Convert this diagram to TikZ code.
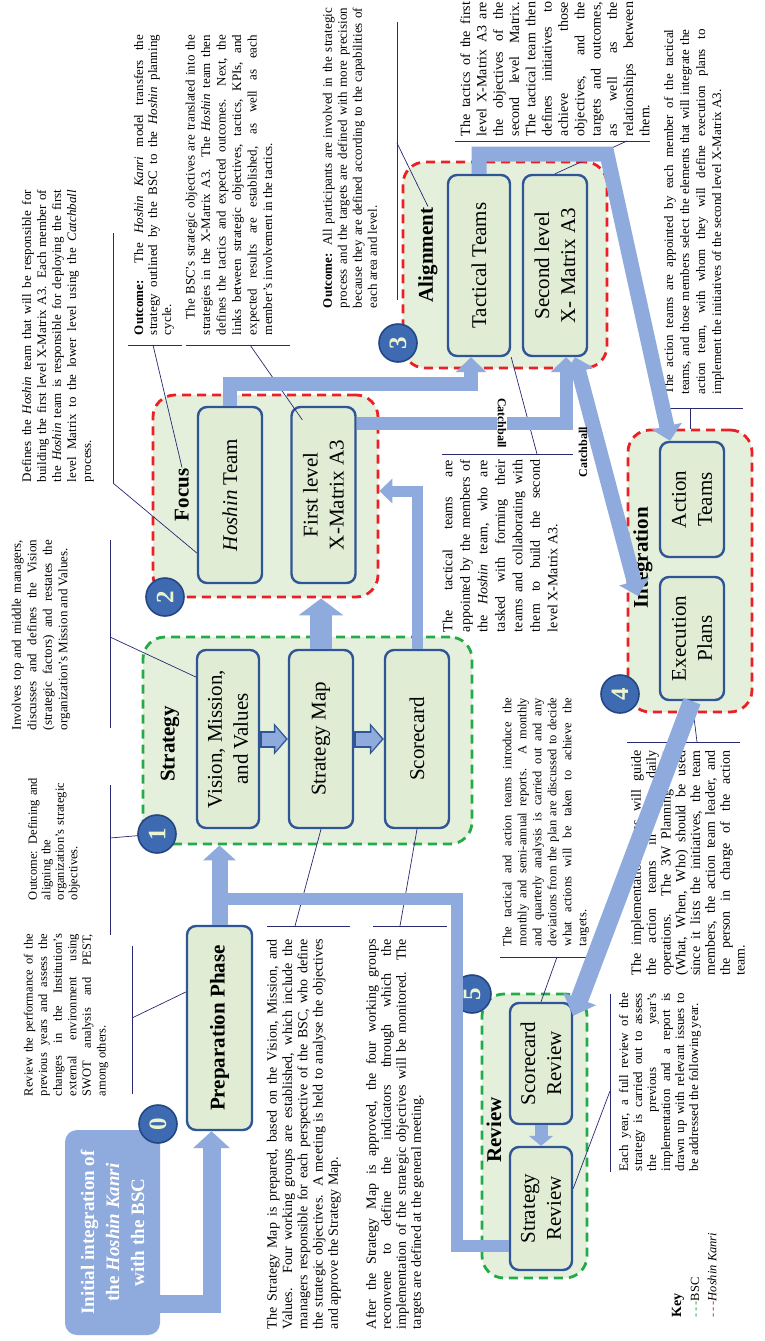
\documentclass[tikz,border=0pt]{standalone}
\usepackage{fontspec}
\setmainfont{Liberation Serif}
\usetikzlibrary{arrows.meta}

\definecolor{flowblue}{RGB}{143,170,220}
\definecolor{boxline}{RGB}{47,85,151}
\definecolor{boxfill}{RGB}{224,236,212}
\definecolor{groupfill}{RGB}{228,240,219}
\definecolor{bscgreen}{RGB}{36,170,70}
\definecolor{hkred}{RGB}{236,32,36}
\definecolor{numfill}{RGB}{62,106,178}
\definecolor{numline}{RGB}{36,70,130}
\definecolor{numtext}{RGB}{236,244,205}
\definecolor{leader}{RGB}{40,40,115}

\begin{document}
\begin{tikzpicture}[x=1pt,y=-1pt,
  para/.style={rotate=90,inner sep=0pt,align=justify,font=\fontsize{13}{15}\selectfont},
  phase/.style={rotate=90,draw=boxline,fill=boxfill,line width=2.4pt,rounded corners=9pt,inner sep=2pt,align=center,font=\fontsize{21}{26}\selectfont},
  bscgroup/.style={draw=bscgreen,fill=groupfill,line width=2.8pt,dash pattern=on 9pt off 6pt,rounded corners=22pt},
  hkgroup/.style={bscgroup,draw=hkred},
  grouplabel/.style={rotate=90,inner sep=1pt,font=\bfseries\fontsize{21}{24}\selectfont},
  stepnum/.style={circle,draw=numline,fill=numfill,line width=1.6pt,minimum size=38pt,inner sep=0pt,rotate=90,text=numtext,font=\bfseries\fontsize{25}{25}\selectfont},
  leaderline/.style={draw=leader,line width=0.7pt},
  flow/.style={draw=flowblue,line width=14pt,-{Triangle[width=30pt,length=15pt]}},
  flowbar/.style={draw=flowblue,line width=12pt},
  nextarrow/.style={draw=boxline,line width=17pt,-{Triangle[width=31pt,length=14pt]}},
  nextarrowin/.style={draw=flowblue,line width=13pt,-{Triangle[width=24pt,length=10.5pt]},shorten <=2pt,shorten >=2pt},
  catchlbl/.style={inner sep=1pt,font=\bfseries\fontsize{12}{12}\selectfont}]
\useasboundingbox (0,0) rectangle (765,1341);
\fill[white] (0,0) rectangle (765,1341);

%Rounded Rect: phase groups
\node[bscgroup,minimum width=329pt,minimum height=207pt] (strategy) at (307.5,740.5) {};
\node[hkgroup,minimum width=225pt,minimum height=202pt] (focus) at (265.5,496) {};
\node[hkgroup,minimum width=204pt,minimum height=206pt] (alignment) at (505,265) {};
\node[hkgroup,minimum width=124pt,minimum height=282pt] (integration) at (690,571) {};
\node[bscgroup,minimum width=105pt,minimum height=284pt] (review) at (534.5,1136) {};

%Rounded Rect: steps
\node[phase,minimum width=204pt,minimum height=65pt,font=\bfseries\fontsize{21}{26}\selectfont] (prep) at (219.5,1028) {Preparation Phase};
\node[phase,minimum width=178pt,minimum height=62pt] (vision) at (228,739) {Vision, Mission,\\and Values};
\node[phase,minimum width=178pt,minimum height=64pt] (smap) at (321,739) {Strategy Map};
\node[phase,minimum width=178pt,minimum height=64pt] (scard) at (417,739) {Scorecard};
\node[phase,minimum width=176pt,minimum height=64pt] (hoshin) at (230,495) {\textit{Hoshin} Team};
\node[phase,minimum width=176pt,minimum height=64pt] (first) at (323.5,495) {First level\\X-Matrix A3};
\node[phase,minimum width=181pt,minimum height=62pt] (tactical) at (479,265.5) {Tactical Teams};
\node[phase,minimum width=181pt,minimum height=64pt] (second) at (555,265.5) {Second level\\X- Matrix A3};
\node[phase,minimum width=115pt,minimum height=64pt] (action) at (692,499.5) {Action\\Teams};
\node[phase,minimum width=123pt,minimum height=64pt] (execution) at (692,638.5) {Execution\\Plans};
\node[phase,minimum width=121pt,minimum height=62pt] (screview) at (541,1063.5) {Scorecard\\Review};
\node[phase,minimum width=123pt,minimum height=62pt] (streview) at (541,1208.5) {Strategy\\Review};
\node[rotate=90,fill=flowblue,rounded corners=12pt,minimum width=205pt,minimum height=95pt,align=center,text=white,font=\bfseries\fontsize{19}{25}\selectfont] (start) at (112.5,1232.5) {Initial integration of\\the \textit{Hoshin Kanri}\\with the BSC};

% Text Node: group titles
\node[grouplabel] (strategylbl) at (170,744) {Strategy};
\node[grouplabel] (focuslbl) at (182,495) {Focus};
\node[grouplabel] (alignlbl) at (428,255) {Alignment};
\node[grouplabel] (integlbl) at (643,558) {Integration};
\node[grouplabel] (reviewlbl) at (494,1130) {Review};

% Text Node
\node[para,text width=162pt,font=\fontsize{12.5}{14.6}\selectfont] (reviewtxt) at (66,1015) {Review the performance of the\linebreak previous years and assess the\linebreak changes in the Institution's\linebreak external environment using\linebreak SWOT analysis and PEST,\linebreak among others.};
% Text Node
\node[para,text width=128pt,align=left,font=\fontsize{12.5}{13.5}\selectfont] (outcomeone) at (54,836) {Outcome: Defining and\\aligning the\\organization's strategic\\objectives.};
% Text Node
\node[para,text width=190pt,font=\fontsize{13}{15.5}\selectfont] (involvestxt) at (41,635) {Involves top and middle managers,\linebreak discusses and defines the Vision\linebreak (strategic factors) and restates the\linebreak organization's Mission and Values.};
% Text Node
\node[para,text width=292pt] (definestxt) at (58,336) {Defines the \textit{Hoshin} team that will be responsible for\linebreak building the first level X-Matrix A3. Each member of\linebreak the \textit{Hoshin} team is responsible for deploying the first\linebreak level Matrix to the lower level using the \textit{Catchball}\linebreak process.};
% Text Node
\node[para,text width=300pt,font=\fontsize{13}{14}\selectfont] (outcometwo) at (154,185) {\textbf{Outcome:} The \textit{Hoshin Kanri} model transfers the\linebreak strategy outlined by the BSC to the \textit{Hoshin} planning\linebreak cycle.};
% Text Node
\node[para,text width=300pt,font=\fontsize{13}{15.5}\selectfont] (bsctxt) at (229,185) {\hspace*{1.2em}The BSC's strategic objectives are translated into the\linebreak strategies in the X-Matrix A3. The \textit{Hoshin} team then\linebreak defines the tactics and expected outcomes. Next, the\linebreak links between strategic objectives, tactics, KPIs, and\linebreak expected results are established, as well as each\linebreak member's involvement in the tactics.};
% Text Node
\node[para,text width=300pt] (outcomethree) at (350,158) {\textbf{Outcome:} All participants are involved in the strategic\linebreak process and the targets are defined with more precision\linebreak because they are defined according to the capabilities of\linebreak each area and level.};
% Text Node
\node[para,text width=134pt,font=\fontsize{14}{16.3}\selectfont] (tacticstxt) at (555,69) {The tactics of the first\linebreak level X-Matrix A3 are\linebreak the objectives of the\linebreak second level Matrix.\linebreak The tactical team then\linebreak defines initiatives to\linebreak achieve those\linebreak objectives, and the\linebreak targets and outcomes,\linebreak as well as the\linebreak relationships between\linebreak them.};
% Text Node
\node[para,text width=365pt,font=\fontsize{13}{16}\selectfont] (actiontxt) at (694,212) {The action teams are appointed by each member of the tactical\linebreak teams, and those members select the elements that will integrate the\linebreak action team, with whom they will define execution plans to\linebreak implement the initiatives of the second level X-Matrix A3.};
% Text Node
\node[para,text width=172pt,font=\fontsize{14}{17.5}\selectfont] (tacticaltxt) at (500,546) {The tactical teams are\linebreak appointed by the members of\linebreak the \textit{Hoshin} team, who are\linebreak tasked with forming their\linebreak teams and collaborating with\linebreak them to build the second\linebreak level X-Matrix A3.};
% Text Node
\node[para,text width=390pt,font=\fontsize{14}{15.3}\selectfont] (smaptxt) at (304,1134) {The Strategy Map is prepared, based on the Vision, Mission, and\linebreak Values. Four working groups are established, which include the\linebreak managers responsible for each perspective of the BSC, who define\linebreak the strategic objectives. A meeting is held to analyse the objectives\linebreak and approve the Strategy Map.};
% Text Node
\node[para,text width=390pt,font=\fontsize{14}{15}\selectfont] (aftertxt) at (395,1134) {After the Strategy Map is approved, the four working groups\linebreak reconvene to define the indicators through which the\linebreak implementation of the strategic objectives will be monitored. The\linebreak targets are defined at the general meeting.};
% Text Node
\node[para,text width=248pt,font=\fontsize{12.5}{15}\selectfont] (reportstxt) at (546,822) {The tactical and action teams introduce the\linebreak monthly and semi-annual reports. A monthly\linebreak and quarterly analysis is carried out and any\linebreak deviations from the plan are discussed to decide\linebreak what actions will be taken to achieve the\linebreak targets.};
% Text Node
\node[para,text width=225pt,font=\fontsize{14}{14.8}\selectfont] (planstxt) at (688,863) {The implementation plans will guide\linebreak the action teams in their daily\linebreak operations. The 3W Planning Sheet\linebreak (What, When, Who) should be used\linebreak since it lists the initiatives, the team\linebreak members, the action team leader, and\linebreak the person in charge of the action\linebreak team.};
% Text Node
\node[para,text width=178pt,font=\fontsize{13}{14}\selectfont] (yeartxt) at (660,1082) {Each year, a full review of the\linebreak strategy is carried out to assess\linebreak the previous year's\linebreak implementation and a report is\linebreak drawn up with relevant issues to\linebreak be addressed the following year.};

%Straight Lines: leaders
\draw[leaderline] (132,946) -- (132,1094);
\draw[leaderline] (132,1018) -- ([yshift=36pt]prep.north);
\draw[leaderline] (110,785) -- (110,935);
\draw[leaderline] (110,838) -- (157,834);
\draw[leaderline] (110,540) -- (110,728);
\draw[leaderline] (110,637) -- ([yshift=62pt]vision.north);
\draw[leaderline] (113,233) -- (113,483);
\draw[leaderline] (113,483) -- ([yshift=-58pt]hoshin.north);
\draw[leaderline] (128,345) -- (182,345);
\draw[leaderline] (153,345) -- (focuslbl.east);
\draw[leaderline] (186,345) -- (290,345);
\draw[leaderline] (250,345) -- ([xshift=12pt,yshift=-14pt]first.north east);
\draw[leaderline] (397,22) -- (397,300);
\draw[leaderline] (397,143) -- (alignlbl.east);
\draw[leaderline] (455,141) -- (650,141);
\draw[leaderline] (627,141) -- (second.east);
\draw[leaderline] (657,408) -- (743,408);
\draw[leaderline] (690,408) -- (integration.north);
\draw[leaderline] (442,454) -- (573,454);
\draw[leaderline] (537,454) -- (tactical.south west);
\draw[leaderline] (267,926) -- (350,926);
\draw[leaderline] (295,926) -- (smap.west);
\draw[leaderline] (373,926) -- (447,926);
\draw[leaderline] (400,926) -- (scard.west);
\draw[leaderline] (500,957) -- (588,957);
\draw[leaderline] (557,957) -- (screview.east);
\draw[leaderline] (627,742) -- (740,742);
\draw[leaderline] (697,742) -- (execution.west);
\draw[leaderline] (610,994) -- (610,1172);
\draw[leaderline] (610,1091) -- ([yshift=20pt]streview.south);

%Shape: Circle
\node[stepnum] (n0) at (158,1124) {0};
\node[stepnum] (n1) at (157,834) {1};
\node[stepnum] (n2) at (165,597) {2};
\node[stepnum] (n3) at (398,343) {3};
\node[stepnum] (n4) at (620,694) {4};
\node[stepnum] (n5) at (472,994) {5};

%Straight Lines: flows
\draw[flow,line width=18pt,-{Triangle[width=36pt,length=17pt]}] (start.south |- 0,1304) -| ([xshift=-8pt]prep.west);
\draw[flow,line width=16pt,-{Triangle[width=32pt,length=15pt]}] (prep.east) -- (prep.east |- strategy.south);
\draw[flowbar] (streview.north |- 0,1246) -- (457,1246) -- (457,899) -- (212,899);
\draw[flow,line width=22pt,-{Triangle[width=44pt,length=17pt]}] (smap.east) -- (smap.east |- focus.south);
\draw[flow,line width=11pt,-{Triangle[width=24pt,length=13pt]}] (scard.east) |- (focus.east |- 0,491);
\draw[flow] (hoshin.east) -- ++(0,-22) -| ([xshift=-8pt]tactical.west);
\draw[flow,line width=13pt] (first.south |- 0,423) -| ([xshift=11pt]second.west);
\draw[flow,line width=15pt] (tactical.east) |- (607,154) -- ([xshift=-22pt]action.east);
\coordinate (catchtip) at (638,596);
\draw[flow,line width=15pt,{Triangle[width=30pt,length=15pt]}-{Triangle[width=30pt,length=15pt]}] ([xshift=20pt]second.west) -- (catchtip);
\draw[flow,line width=18pt,-{Triangle[width=34pt,length=18pt]}] (execution.west) -- ([yshift=-14pt]screview.south east);
\draw[flow,line width=13pt,-{Triangle[width=24pt,length=10pt]}] (screview.west) -- (streview.east);

%Block arrows inside Strategy
\draw[nextarrow] (vision.south) -- (smap.north);
\draw[nextarrowin] (vision.south) -- (smap.north);
\draw[nextarrow] (smap.south) -- (scard.north);
\draw[nextarrowin] (smap.south) -- (scard.north);

% Text Node: catchball
\node[catchlbl,rotate=-90,fill=white] (catchone) at (502,423) {Catchball};
\node[catchlbl,rotate=90] (catchtwo) at (583,452) {Catchball};

% Text Node: key
\node[rotate=90,anchor=west,inner sep=0pt,font=\bfseries\fontsize{14}{14}\selectfont] (keytitle) at (678,1318) {Key};
\node[rotate=90,anchor=west,inner sep=0pt,font=\fontsize{12.5}{12.5}\selectfont] (keybsc) at (695,1318) {\textcolor{bscgreen}{-\,-\,-}BSC};
\node[rotate=90,anchor=west,inner sep=0pt,font=\fontsize{12.5}{12.5}\selectfont] (keyhk) at (712,1318) {\textcolor{hkred}{-\,-\,-}\textit{Hoshin Kanri}};

\end{tikzpicture}
\end{document}
